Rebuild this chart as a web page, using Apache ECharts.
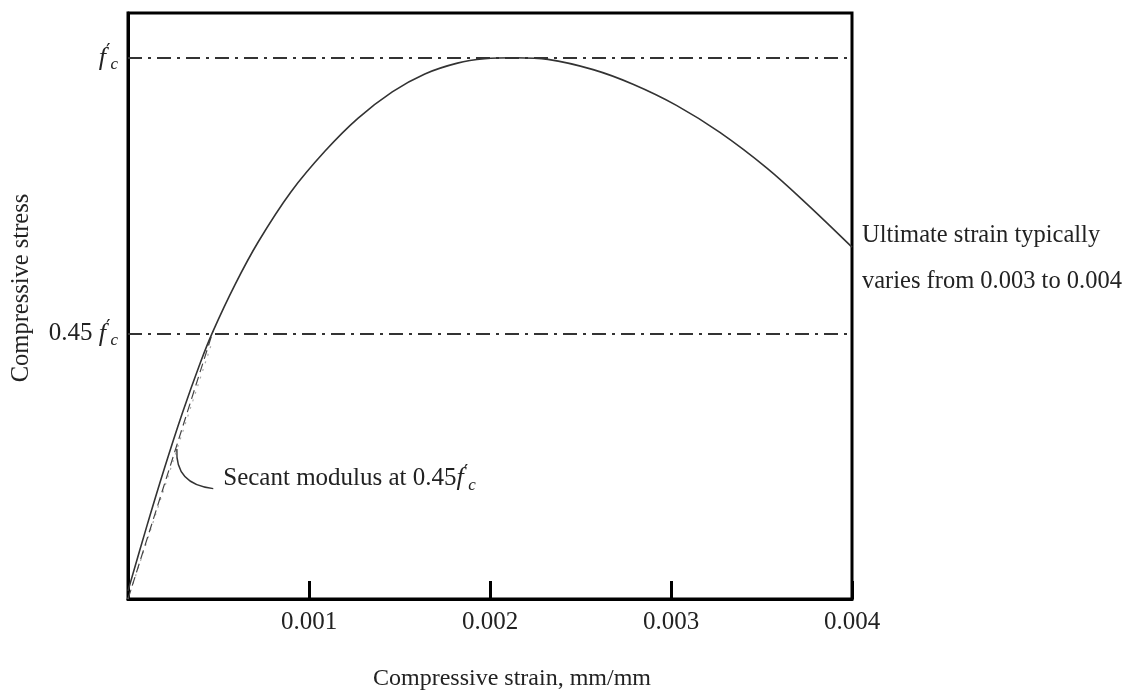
<!DOCTYPE html>
<html>
<head>
<meta charset="utf-8">
<script src="https://cdn.jsdelivr.net/npm/echarts@6/dist/echarts.min.js"></script>
<style>
html, body { margin: 0; padding: 0; background: #fff; }
#main { width: 1130px; height: 696px; }
</style>
</head>
<body>
<div id="main"></div>
<script>
// strain in mm/mm, stress as a fraction of f'c
var strain = [0, 0.0001, 0.0002, 0.0003, 0.0004, 0.00047, 0.00059, 0.00072, 0.0009, 0.00109,
	0.00127, 0.00146, 0.00164, 0.00182, 0.00197, 0.00214, 0.00232, 0.00257, 0.00279,
	0.00303, 0.00327, 0.00353, 0.00375, 0.004];
var stress = [0.015, 0.13, 0.24, 0.343, 0.437, 0.495, 0.58, 0.66, 0.752, 0.828,
	0.888, 0.937, 0.97, 0.99, 0.998, 1.0, 0.997, 0.978, 0.951,
	0.912, 0.862, 0.796, 0.73, 0.65];

var xTicks = [0.001, 0.002, 0.003, 0.004];
var fcLevel = 1.0;        // f'c line
var secantLevel = 0.495;  // 0.45 f'c line as drawn
var secantStrain = 0.00047;
var secantLine = [[0, 0], [secantStrain, secantLevel]];
var dottedLine = [[0, 0], [0.00046, 0.47]];
var secantNote = { from: [0.00027, 0.277], to: [0.00046, 0.204], text: 'Secant modulus at ' };
var ultimateNote = ['Ultimate strain typically', 'varies from 0.003 to 0.004'];

var serif = '"Liberation Serif", "Times New Roman", serif';

var curve = strain.map(function(s, i) { return [s, stress[i]]; });

var fcRich = {
	n: { fontFamily: serif, fontSize: 25, color: '#222', lineHeight: 30 },
	f: { fontFamily: serif, fontSize: 26, fontStyle: 'italic', color: '#222', lineHeight: 30 },
	p: { fontFamily: '"DejaVu Serif", serif', fontSize: 20, color: '#222', lineHeight: 20, verticalAlign: 'top' },
	c: { fontFamily: serif, fontSize: 17, fontStyle: 'italic', color: '#222', lineHeight: 16, verticalAlign: 'bottom' }
};

var chart = echarts.init(document.getElementById('main'));

var options =
{
	backgroundColor: '#fff',
	animation: false,
	grid: {
		left: 128, right: 278, top: 13, bottom: 93,
		show: true, borderColor: '#000', borderWidth: 3
	},
	xAxis: {
		type: 'value',
		min: 0, max: 0.004, interval: 0.001,
		name: 'Compressive strain, mm/mm',
		nameLocation: 'middle',
		nameGap: 68,
		nameTextStyle: { fontFamily: serif, fontSize: 24, color: '#222', padding: [0, 0, 0, 44] },
		axisLine: { lineStyle: { color: '#000', width: 3 } },
		axisTick: { inside: true, length: 18, lineStyle: { color: '#000', width: 3 } },
		axisLabel: {
			fontFamily: serif, fontSize: 25, color: '#222', margin: 11,
			formatter: function(v) {
				for (var i = 0; i < xTicks.length; i++)
					if (Math.abs(v - xTicks[i]) < 1e-9) return xTicks[i].toFixed(3);
				return '';
			}
		},
		splitLine: { show: false }
	},
	yAxis: {
		type: 'value',
		min: 0, max: 1.0826,
		name: 'Compressive stress',
		nameLocation: 'middle',
		nameGap: 94,
		nameTextStyle: { fontFamily: serif, fontSize: 24.5, color: '#222', padding: [0, 0, 0, 36] },
		axisLine: { show: true, lineStyle: { color: '#000', width: 3 } },
		axisTick: { show: false },
		axisLabel: { show: false },
		splitLine: { show: false }
	},
	series: [
		{
			type: 'line',
			data: curve,
			smooth: 0.35,
			symbol: 'none',
			lineStyle: { color: '#333', width: 1.6 },
			z: 3,
			markLine: {
				silent: true,
				symbol: 'none',
				lineStyle: { color: '#333', width: 2, type: [14, 6, 3, 6] },
				label: { position: 'start', distance: 10, rich: fcRich },
				data: [
					{ yAxis: fcLevel, label: { formatter: '{f|f}{p|′}{c|c}' } },
					{ yAxis: secantLevel, label: { formatter: '{n|0.45 }{f|f}{p|′}{c|c}' } }
				]
			}
		},
		{
			type: 'line',
			data: secantLine,
			symbol: 'none',
			lineStyle: { color: '#444', width: 1.2, type: [9, 5] },
			z: 2
		},
		{
			type: 'line',
			data: dottedLine,
			symbol: 'none',
			lineStyle: { color: '#aaa', width: 1.2, type: [2, 6] },
			z: 1
		}
	]
};

chart.setOption(options);

// annotations placed from data coordinates
var p0 = chart.convertToPixel({ gridIndex: 0 }, secantNote.from);
var p1 = chart.convertToPixel({ gridIndex: 0 }, secantNote.to);
var end = chart.convertToPixel({ gridIndex: 0 }, [strain[strain.length - 1], stress[stress.length - 1]]);

chart.setOption({
	graphic: [
		{
			type: 'bezierCurve',
			shape: { x1: p0[0], y1: p0[1], x2: p1[0] + 2, y2: p1[1], cpx1: p0[0] - 2, cpy1: p1[1] - 4 },
			style: { stroke: '#333', lineWidth: 1.4, fill: null }
		},
		{
			type: 'text',
			x: p1[0] + 12, y: p1[1] - 10,
			style: {
				text: secantNote.text + '{n|0.45}{f|f}{p|′}{c|c}',
				font: '25px ' + serif, fill: '#222',
				verticalAlign: 'middle',
				rich: fcRich
			}
		},
		{
			type: 'text',
			x: end[0] + 10, y: end[1] + 11,
			style: {
				text: ultimateNote.join('\n'),
				font: '24.5px ' + serif, fill: '#222',
				lineHeight: 46,
				verticalAlign: 'middle'
			}
		}
	]
});
</script>
</body>
</html>
